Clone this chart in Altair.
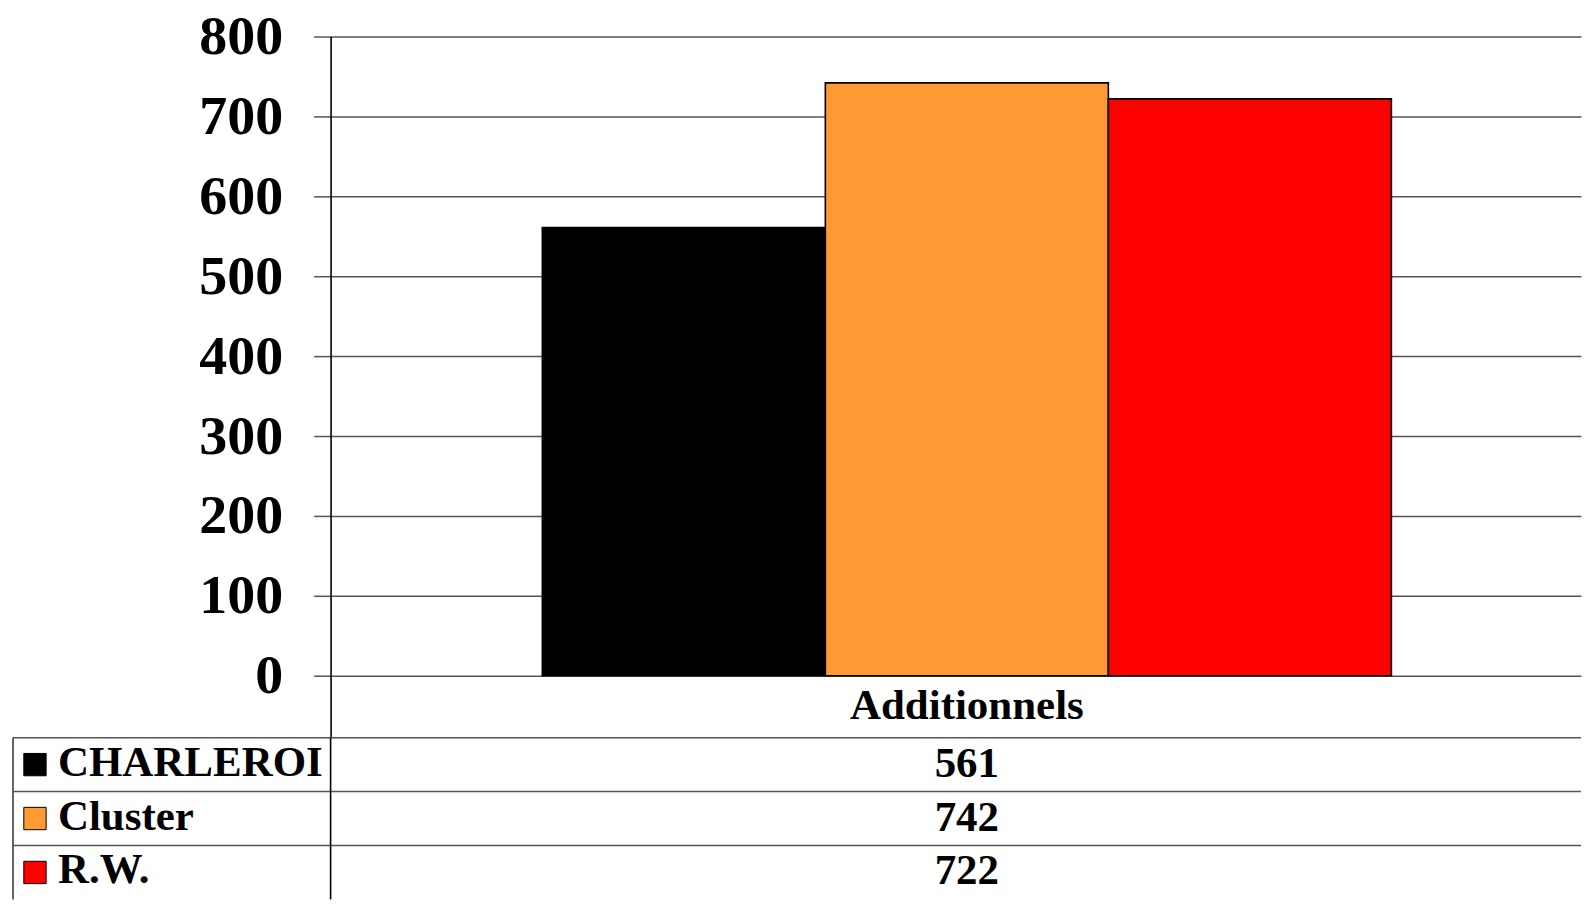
import altair as alt
import pandas as pd

categories = ["Additionnels"]
series = ["CHARLEROI", "Cluster", "R.W."]
values = [561, 742, 722]
colors = ["#000000", "#FF9933", "#FF0000"]

df = pd.DataFrame({
    "category": [categories[0]] * len(series),
    "series": series,
    "value": values,
})

FONT = "Liberation Serif"
W = 1252          # plot width
H = 702           # plot height (value axis + gap to table)
LEFT = 318        # width of the table's label column
ROW0, ROWSTEP = 702, 54

color_scale = alt.Scale(domain=series, range=colors)
tscale = alt.Scale(domain=series, range=[ROW0, ROW0 + ROWSTEP * len(series)],
                   paddingInner=0, paddingOuter=0)

base = alt.Chart(df)

bars = base.mark_bar(stroke="black", strokeWidth=1.6).encode(
    x=alt.X("category:N", title=None,
            scale=alt.Scale(domain=categories, paddingInner=0, paddingOuter=0.009, align=1),
            axis=alt.Axis(orient="bottom", offset=-62, domain=False, ticks=False, tickSize=0,
                          labelPadding=30, labelBaseline="middle", labelAngle=0, labelLimit=0,
                          labelFont=FONT, labelFontSize=43, labelFontWeight="bold",
                          labelColor="black", grid=False)),
    xOffset=alt.XOffset("series:N", scale=alt.Scale(domain=series, paddingInner=0, paddingOuter=0.67)),
    y=alt.Y("value:Q", title=None,
            scale=alt.Scale(domain=[-77.5, 800], nice=False, zero=True),
            axis=alt.Axis(values=[0, 100, 200, 300, 400, 500, 600, 700, 800],
                          labelFont=FONT, labelFontSize=56, labelFontWeight="bold",
                          labelColor="black", labelPadding=31, tickSize=17,
                          tickColor="#555555", tickWidth=1.5,
                          grid=True, gridColor="#555555", gridWidth=1.5,
                          domain=True, domainColor="black", domainWidth=1.6)),
    color=alt.Color("series:N", scale=color_scale, legend=None),
)

ty = alt.Y("series:N", scale=tscale, axis=None, title=None)
ty0 = alt.Y("series:N", scale=tscale, axis=None, title=None, bandPosition=0)

hlines = base.mark_rule(color="#555555", strokeWidth=1.5).encode(
    y=ty0, x=alt.value(-LEFT), x2=alt.value(W)
)
vleft = base.mark_rect(color="#333333").encode(
    y=ty, x=alt.value(-LEFT - 0.75), x2=alt.value(-LEFT + 0.75)
)
vmid = base.mark_rect(color="#000000").encode(
    y=ty, x=alt.value(-0.8), x2=alt.value(0.8)
)
squares = base.mark_square(size=500, filled=True, stroke="black", strokeWidth=1, opacity=1).encode(
    y=ty, x=alt.value(-LEFT + 22),
    fill=alt.Fill("series:N", scale=color_scale, legend=None),
)
labels = base.mark_text(align="left", baseline="middle", font=FONT, fontSize=43,
                        fontWeight="bold", color="black", dy=-2).encode(
    y=ty, x=alt.value(-LEFT + 45), text="series:N"
)
vals = base.mark_text(align="center", baseline="middle", font=FONT, fontSize=43,
                      fontWeight="bold", color="black", dy=-1).encode(
    y=ty, x=alt.X("category:N"), text="value:Q"
)

chart = alt.layer(bars, hlines, vleft, vmid, squares, labels, vals).resolve_scale(
    y="independent"
).properties(
    width=W, height=H,
    padding={"left": 4, "top": 0, "right": 0, "bottom": 0},
    background="white",
).configure_view(stroke=None)

chart.save("out.html", embed_options={"renderer": "svg", "actions": False})
